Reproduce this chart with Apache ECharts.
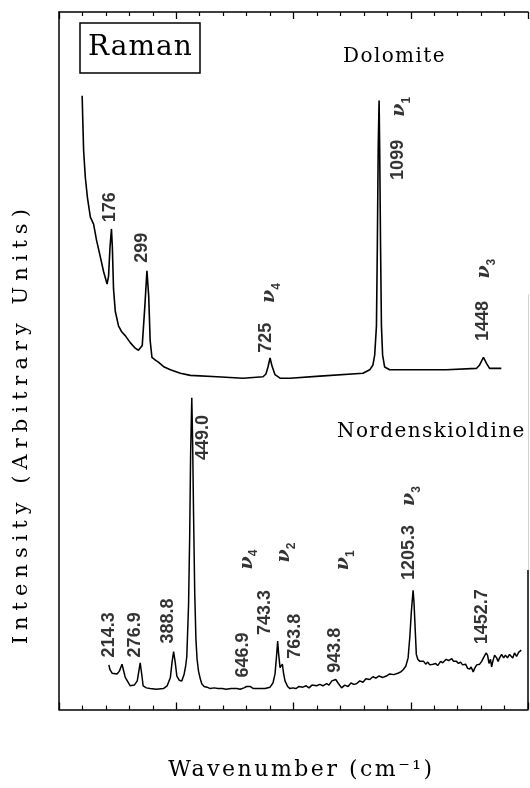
<!DOCTYPE html>
<html><head><meta charset="utf-8">
<script src="https://cdn.jsdelivr.net/npm/echarts@6/dist/echarts.min.js"></script>
<style>
html,body{margin:0;padding:0;background:#fff}
#c{width:530px;height:788px}
</style>
</head><body><div id="c"></div>
<script>
// ---- data (wavenumber cm^-1, relative intensity 0-100) ----
const xMin = 0, xMax = 1600, xInterval = 400, minorSplit = 5;
const dolomite = [[79,88.0],[81,84.7],[84,80.1],[90,76.2],[97,73.4],[107,70.6],[118,69.6],[128,67.3],[141,64.9],[152,62.8],[164,61.0],[169,62.1],[174,66.3],[179,68.9],[182,66.3],[186,60.3],[192,57.1],[203,55.0],[213,54.2],[226,53.6],[243,52.6],[260,51.8],[271,51.5],[284,52.2],[293,57.9],[300,62.9],[306,59.3],[311,52.9],[317,50.5],[329,50.1],[339,49.8],[359,49.1],[380,48.7],[414,48.2],[448,47.9],[539,47.7],[628,47.5],[696,47.7],[706,48.1],[713,49.1],[720,50.4],[727,49.2],[737,48.0],[754,47.5],[788,47.5],[890,47.8],[1037,48.2],[1060,48.7],[1071,49.4],[1077,50.8],[1083,55.0],[1086,66.3],[1089,80.5],[1092,87.3],[1094,80.5],[1097,66.3],[1100,55.0],[1104,50.8],[1111,49.1],[1128,48.7],[1231,48.7],[1321,48.7],[1424,48.9],[1435,49.4],[1448,50.5],[1459,49.6],[1469,48.9],[1509,48.9]];
const nordenskioldine = [[170,6.4],[174,5.7],[181,5.2],[198,5.1],[206,5.5],[215,6.5],[219,5.8],[226,4.6],[243,3.4],[257,3.5],[267,4.1],[277,6.7],[283,4.8],[287,3.4],[298,3.1],[311,3.0],[332,2.9],[356,3.0],[369,3.4],[380,4.6],[386,6.9],[391,8.3],[397,6.6],[402,4.8],[410,4.2],[419,4.1],[427,5.1],[432,6.2],[436,7.6],[442,15.0],[446,25.3],[449,36.6],[453,44.7],[456,38.0],[459,28.1],[463,16.8],[467,10.2],[471,7.2],[476,5.5],[482,4.4],[487,3.7],[495,3.3],[505,3.2],[516,3.0],[529,3.1],[543,3.0],[557,3.0],[570,2.9],[587,3.0],[607,3.0],[618,2.9],[631,3.1],[640,3.3],[646,3.5],[652,3.3],[663,3.0],[676,3.0],[689,3.0],[703,3.0],[720,3.2],[730,3.8],[737,5.1],[742,7.6],[746,9.8],[749,8.1],[754,6.0],[757,6.2],[762,6.5],[766,5.2],[771,4.1],[780,3.3],[788,3.0],[798,3.1],[808,3.0],[819,3.3],[832,3.2],[843,3.4],[853,3.1],[863,3.5],[879,3.4],[890,3.6],[900,3.4],[913,3.7],[921,3.5],[931,4.1],[944,4.3],[952,3.8],[964,3.1],[975,3.5],[986,3.3],[996,3.8],[1006,3.6],[1015,3.7],[1026,4.1],[1037,3.9],[1047,4.4],[1060,4.3],[1071,4.7],[1081,4.5],[1091,4.8],[1105,4.6],[1117,4.8],[1128,5.1],[1142,5.0],[1156,5.2],[1166,5.4],[1174,5.7],[1183,6.2],[1191,7.4],[1197,10.5],[1202,14.0],[1208,17.1],[1211,15.4],[1214,12.6],[1217,9.8],[1219,7.9],[1224,7.2],[1231,6.9],[1236,6.7],[1244,6.9],[1251,6.5],[1258,6.8],[1265,6.4],[1276,6.5],[1285,6.6],[1292,6.3],[1302,6.9],[1309,6.7],[1321,7.2],[1329,7.0],[1340,7.3],[1346,6.9],[1356,6.9],[1363,6.6],[1370,6.8],[1377,6.4],[1387,6.5],[1394,5.9],[1401,5.8],[1406,6.1],[1413,5.4],[1418,5.9],[1425,6.4],[1435,6.5],[1442,6.9],[1448,7.4],[1457,8.1],[1462,7.8],[1467,6.6],[1472,7.2],[1476,6.1],[1480,6.9],[1486,7.8],[1493,7.4],[1498,6.9],[1503,7.4],[1510,7.9],[1517,7.4],[1523,7.8],[1530,7.4],[1537,7.9],[1548,7.4],[1554,8.1],[1561,7.6],[1568,8.2],[1577,8.5]];
// peak labels: [text, wavenumber, intensity]
const peakLabels = [['176',173,72.0],['299',283,66.2],['725',706,53.3],['1099',1156,78.8],['1448',1445,55.7],
  ['214.3',169,10.7],['276.9',260,10.7],['388.8',373,12.7],['449.0',492,39.0],['646.9',628,7.8],['743.3',703,13.9],['763.8',805,10.5],['943.8',941,8.5],['1205.3',1193,22.5],['1452.7',1442,13.3]];
// vibrational mode labels: [subscript, wavenumber, intensity]
const modeLabels = [['1',1156,86.4],['4',713,59.7],['3',1445,63.2],['4',635,21.5],['2',764,22.5],['1',965,21.4],['3',1190,30.6]];
const sampleNames = ['Dolomite','Nordenskioldine'];
const boxTitle = 'Raman';
const xTitle = 'Wavenumber (cm⁻¹)';
const yTitle = 'Intensity (Arbitrary Units)';
// right frame edge: faint upper part and solid lower part (intensity range)
const rightEdgeFaint = [59.5, 20];
const rightEdgeSolid = [20, 0];

// typewriter-like letter spacing for the serif captions (keyed by font size)
(function(){
  const P = window.CanvasRenderingContext2D && CanvasRenderingContext2D.prototype;
  if (!P || !('letterSpacing' in P)) return;
  const d = Object.getOwnPropertyDescriptor(P, 'font');
  if (!d || !d.set) return;
  const spacing = {'21px':'6px','22px':'2.5px','20px':'1.4px','28px':'1px'};
  Object.defineProperty(P, 'font', {configurable:true,
    get(){ return d.get.call(this); },
    set(v){ d.set.call(this, v); const m = /(\d+)px/.exec(String(v));
      const s = (m && /Serif/.test(v) && spacing[m[1]+'px']) || '0px';
      if (this.letterSpacing !== s) this.letterSpacing = s; }});
})();

const chart = echarts.init(document.getElementById('c'), null, {renderer:'canvas'});
const serif = 'DejaVu Serif';
const axisCommon = {
  type:'value', min:xMin, max:xMax, interval:xInterval,
  axisLine:{show:true, onZero:false, lineStyle:{color:'#000', width:1.5}},
  axisTick:{show:true, inside:true, length:7, lineStyle:{color:'#000', width:1.3}},
  minorTick:{show:true, splitNumber:minorSplit, length:4, lineStyle:{color:'#000', width:1.2}},
  axisLabel:{show:false}, splitLine:{show:false}
};
chart.setOption({
  animation:false,
  backgroundColor:'#fff',
  title:[
    {text:boxTitle, left:80, top:23, borderColor:'#000', borderWidth:1.5, padding:[9,8,9,8],
     textStyle:{fontFamily:serif, fontWeight:'normal', fontSize:28, color:'#000', lineHeight:32}},
    {text:sampleNames[0], left:343, top:46, padding:0, textStyle:{fontFamily:serif, fontWeight:'normal', fontSize:20, color:'#000'}},
    {text:sampleNames[1], left:337, top:421, padding:0, textStyle:{fontFamily:serif, fontWeight:'normal', fontSize:20, color:'#000'}}
  ],
  grid:{left:57, right:2, top:12, bottom:68, containLabel:false},
  xAxis:[
    Object.assign({}, axisCommon, {position:'bottom',
      name:xTitle, nameLocation:'middle', nameGap:49,
      nameTextStyle:{fontFamily:serif, fontSize:22, color:'#000', padding:[0,0,0,16]}}),
    Object.assign({}, axisCommon, {position:'top'})
  ],
  yAxis:[
    {type:'value', min:0, max:100, position:'left',
     axisLine:{show:true, lineStyle:{color:'#000', width:1.5}}, axisTick:{show:false}, axisLabel:{show:false}, splitLine:{show:false},
     name:yTitle, nameLocation:'middle', nameGap:24, nameRotate:90,
     nameTextStyle:{fontFamily:serif, fontSize:21, color:'#000', padding:[0,126,0,0]}},
    {type:'value', min:0, max:100, position:'right',
     axisLine:{show:false}, axisTick:{show:false}, axisLabel:{show:false}, splitLine:{show:false}}
  ],
  series:[
    {name:sampleNames[0], type:'line', data:dolomite, showSymbol:false, symbol:'none',
     lineStyle:{color:'#000', width:1.6}, z:3,
     markLine:{silent:true, symbol:'none', label:{show:false}, animation:false,
       data:[
         [{coord:[xMax,rightEdgeFaint[0]], lineStyle:{color:'#d0d0d0', width:1, type:'solid'}},{coord:[xMax,rightEdgeFaint[1]]}],
         [{coord:[xMax,rightEdgeSolid[0]], lineStyle:{color:'#000', width:1.5, type:'solid'}},{coord:[xMax,rightEdgeSolid[1]]}]
       ]}},
    {name:sampleNames[1], type:'line', data:nordenskioldine, showSymbol:false, symbol:'none',
     lineStyle:{color:'#000', width:1.5}, z:3},
    {type:'scatter', symbolSize:0, silent:true, z:4,
     data:peakLabels.map(p=>({value:[p[1],p[2]], name:p[0]})),
     label:{show:true, position:'inside', rotate:90, formatter:p=>p.name,
       fontFamily:'Liberation Sans', fontWeight:'bold', fontSize:18, color:'#000'}},
    {type:'scatter', symbolSize:0, silent:true, z:4,
     data:modeLabels.map(p=>({value:[p[1],p[2]], name:p[0]})),
     label:{show:true, position:'inside', rotate:90,
       formatter:p=>'{nu|ν}{sub|'+p.name+'}',
       rich:{nu:{fontFamily:serif, fontStyle:'italic', fontWeight:'bold', fontSize:19, color:'#000', verticalAlign:'bottom', lineHeight:22},
             sub:{fontFamily:'Liberation Sans', fontWeight:'bold', fontSize:12, color:'#000', verticalAlign:'bottom', lineHeight:22, padding:[0,0,-4,0]}}}}
  ]
});
</script></body></html>
